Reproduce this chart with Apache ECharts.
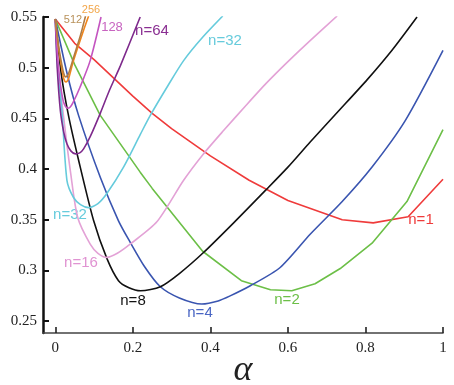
<!DOCTYPE html>
<html>
<head>
<meta charset="utf-8">
<script src="https://cdn.jsdelivr.net/npm/echarts@6/dist/echarts.min.js"></script>
<style>html,body{margin:0;padding:0;background:#fff}#c{width:454px;height:385px}</style>
</head>
<body>
<div id="c"></div>
<script>
// ---- data ----
const xTicks = [0, 0.2, 0.4, 0.6, 0.8, 1];
const yTicks = [0.25, 0.3, 0.35, 0.4, 0.45, 0.5, 0.55];

const alpha1 = [0, 0.05, 0.1, 0.15, 0.2, 0.25, 0.3, 0.4, 0.5, 0.6, 0.74, 0.82, 0.91, 1.0];
const err1   = [0.548, 0.524, 0.508, 0.490, 0.472, 0.455, 0.440, 0.413, 0.389, 0.369, 0.350, 0.347, 0.353, 0.390];

const alpha2 = [0, 0.05, 0.116, 0.219, 0.25, 0.38, 0.48, 0.555, 0.61, 0.67, 0.735, 0.817, 0.907, 1.0];
const err2   = [0.548, 0.503, 0.453, 0.397, 0.381, 0.319, 0.290, 0.281, 0.280, 0.287, 0.302, 0.327, 0.368, 0.439];

const alpha4 = [0, 0.03, 0.06, 0.116, 0.163, 0.193, 0.23, 0.271, 0.32, 0.378, 0.42, 0.451, 0.503, 0.58, 0.658, 0.74, 0.817, 0.903, 1.0];
const err4   = [0.548, 0.495, 0.453, 0.392, 0.349, 0.328, 0.304, 0.284, 0.273, 0.267, 0.270, 0.275, 0.285, 0.303, 0.336, 0.368, 0.402, 0.448, 0.517];

const alpha8 = [0, 0.015, 0.034, 0.06, 0.099, 0.133, 0.163, 0.19, 0.22, 0.271, 0.32, 0.383, 0.46, 0.542, 0.6, 0.658, 0.73, 0.804, 0.87, 0.933];
const err8   = [0.548, 0.495, 0.453, 0.409, 0.349, 0.312, 0.290, 0.283, 0.280, 0.284, 0.297, 0.318, 0.347, 0.379, 0.402, 0.427, 0.457, 0.488, 0.518, 0.550];

const alpha16 = [0, 0.008, 0.021, 0.04, 0.058, 0.09, 0.11, 0.133, 0.16, 0.193, 0.262, 0.331, 0.38, 0.434, 0.49, 0.545, 0.6, 0.658, 0.727];
const err16   = [0.548, 0.500, 0.453, 0.395, 0.352, 0.326, 0.317, 0.313, 0.317, 0.326, 0.348, 0.389, 0.414, 0.438, 0.462, 0.485, 0.506, 0.527, 0.551];

const alpha32 = [0, 0.006, 0.017, 0.030, 0.047, 0.065, 0.086, 0.11, 0.133, 0.176, 0.219, 0.245, 0.29, 0.331, 0.38, 0.432];
const err32   = [0.548, 0.500, 0.458, 0.389, 0.372, 0.365, 0.362, 0.366, 0.376, 0.402, 0.434, 0.453, 0.482, 0.507, 0.530, 0.551];

const alpha64 = [0, 0.005, 0.013, 0.022, 0.030, 0.040, 0.052, 0.063, 0.073, 0.090, 0.116, 0.14, 0.168, 0.219];
const err64   = [0.548, 0.500, 0.458, 0.436, 0.425, 0.418, 0.415, 0.416, 0.420, 0.432, 0.455, 0.478, 0.502, 0.550];

const alpha128 = [0, 0.006, 0.013, 0.020, 0.026, 0.032, 0.038, 0.045, 0.064, 0.090, 0.118];
const err128   = [0.548, 0.510, 0.484, 0.468, 0.462, 0.460, 0.461, 0.465, 0.481, 0.507, 0.550];

const alpha256 = [0, 0.010, 0.020, 0.024, 0.027, 0.031, 0.035, 0.047, 0.073, 0.086];
const err256   = [0.548, 0.515, 0.492, 0.487, 0.486, 0.487, 0.490, 0.507, 0.537, 0.551];

const alpha512 = [0, 0.010, 0.020, 0.024, 0.027, 0.031, 0.035, 0.047, 0.065, 0.078];
const err512   = [0.548, 0.518, 0.497, 0.492, 0.491, 0.492, 0.495, 0.510, 0.532, 0.551];

// ---- build ----
const zip = (a, b) => a.map((x, i) => [x, b[i]]);
const curves = [
  { name: 'n=1',   a: alpha1,   e: err1,   color: '#ef3b3b', smooth: false },
  { name: 'n=2',   a: alpha2,   e: err2,   color: '#6cbf47', smooth: false },
  { name: 'n=4',   a: alpha4,   e: err4,   color: '#3a55b0', smooth: 0.25 },
  { name: 'n=8',   a: alpha8,   e: err8,   color: '#111111', smooth: 0.25 },
  { name: 'n=16',  a: alpha16,  e: err16,  color: '#e3a2d6', smooth: 0.25 },
  { name: 'n=32',  a: alpha32,  e: err32,  color: '#66cbdc', smooth: 0.25 },
  { name: 'n=64',  a: alpha64,  e: err64,  color: '#7e2a8c', smooth: 0.25 },
  { name: 'n=128', a: alpha128, e: err128, color: '#c455c0', smooth: 0.25 },
  { name: 'n=256', a: alpha256, e: err256, color: '#f0861c', smooth: 0.25 },
  { name: 'n=512', a: alpha512, e: err512, color: '#b07c44', smooth: 0.25 }
];

const sansFont = 'Liberation Sans';
const serifFont = 'Liberation Serif';
const labels = [
  { t: '512',  x: 73,  y: 20,  c: '#b8915a', s: 11 },
  { t: '256',  x: 91,  y: 10,  c: '#f2a64a', s: 11 },
  { t: '128',  x: 112, y: 27,  c: '#c864c0', s: 13 },
  { t: 'n=64', x: 152, y: 31,  c: '#8a2f92', s: 15 },
  { t: 'n=32', x: 225, y: 41,  c: '#66cbdc', s: 15 },
  { t: 'n=32', x: 70,  y: 215, c: '#66cbdc', s: 15 },
  { t: 'n=16', x: 81,  y: 263, c: '#e093d2', s: 15 },
  { t: 'n=8',  x: 133, y: 301, c: '#111111', s: 15 },
  { t: 'n=4',  x: 200, y: 313, c: '#4a66c4', s: 15 },
  { t: 'n=2',  x: 287, y: 300, c: '#6cbf47', s: 15 },
  { t: 'n=1',  x: 421, y: 220, c: '#ef3b3b', s: 15 }
];

const chart = echarts.init(document.getElementById('c'), null, { renderer: 'canvas' });
chart.setOption({
  animation: false,
  backgroundColor: '#fff',
  grid: { left: 43, right: 11, top: 17, bottom: 52, containLabel: false, outerBoundsMode: 'none' },
  xAxis: {
    type: 'value', min: -0.0317, max: 1,
    axisLine: { show: true, onZero: false, lineStyle: { color: '#444', width: 1.6 } },
    axisTick: { show: true, inside: true, length: 6, customValues: xTicks, lineStyle: { color: '#222', width: 1.6 } },
    axisLabel: { customValues: xTicks, margin: 8, color: '#222', fontFamily: serifFont, fontSize: 15,
      formatter: v => String(+v.toFixed(2)) },
    splitLine: { show: false },
    name: 'α', nameLocation: 'middle', nameGap: 20, nameMoveOverlap: false,
    nameTextStyle: { fontFamily: serifFont, fontStyle: 'italic', fontSize: 36, color: '#222',
      verticalAlign: 'top', lineHeight: 36 }
  },
  yAxis: {
    type: 'value', min: 0.2384, max: 0.55,
    axisLine: { show: true, onZero: false, lineStyle: { color: '#111', width: 2.5 } },
    axisTick: { show: true, inside: true, length: 6, customValues: yTicks, lineStyle: { color: '#111', width: 2 } },
    axisLabel: { customValues: yTicks, margin: 6, color: '#222', fontFamily: serifFont, fontSize: 15,
      formatter: v => String(+v.toFixed(2)) },
    splitLine: { show: false }
  },
  series: curves.map(c => ({
    name: c.name, type: 'line', data: zip(c.a, c.e), showSymbol: false, symbol: 'none',
    smooth: c.smooth, clip: true,
    lineStyle: { color: c.color, width: 1.6 }
  })),
  graphic: labels.map(l => ({
    type: 'text', x: l.x, y: l.y,
    style: { text: l.t, fill: l.c, fontFamily: sansFont, fontSize: l.s, align: 'center', verticalAlign: 'middle' }
  }))
});
</script>
</body>
</html>
